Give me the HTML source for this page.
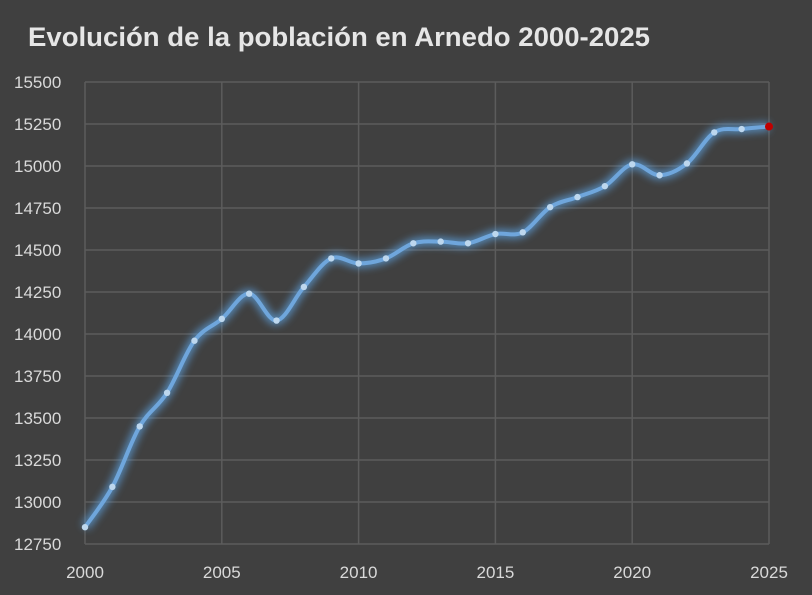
<!DOCTYPE html>
<html><head><meta charset="utf-8"><style>
html,body{margin:0;padding:0;background:#404040;}
svg{display:block;}
text{font-family:"Liberation Sans",sans-serif;}
</style></head><body>
<svg id="s" width="812" height="595" xmlns="http://www.w3.org/2000/svg">
<defs><filter id="g" x="-10%" y="-10%" width="120%" height="120%"><feGaussianBlur stdDeviation="4"/></filter></defs>
<rect width="812" height="595" fill="#404040"/>
<text x="28" y="46" font-size="27" font-weight="bold" fill="#e6e6e6" textLength="622" lengthAdjust="spacingAndGlyphs">Evolución de la población en Arnedo 2000-2025</text>
<g id="grid" stroke="#5c5c5c" stroke-width="1.5"></g>
<g id="lab" fill="#d9d9d9" font-size="17"></g>
<path id="glow" fill="none" stroke="#5b9bd5" stroke-width="9" opacity="0.8" filter="url(#g)"/>
<path id="line" fill="none" stroke="#6fa6dc" stroke-width="4"/>
<g id="pts"></g>
</svg>
<script>
var d=[12850,13090,13450,13650,13960,14090,14240,14080,14280,14450,14420,14450,14540,14550,14540,14595,14605,14755,14815,14880,15010,14945,15015,15200,15220,15235];
var X=function(i){return 85+i*684/25},Y=function(v){return 82+(15500-v)*462/2750};
var ns="http://www.w3.org/2000/svg",g=document.getElementById('grid'),l=document.getElementById('lab');
function el(p,t,a){var e=document.createElementNS(ns,t);for(var k in a)e.setAttribute(k,a[k]);p.appendChild(e);return e;}
for(var v=12750;v<=15500;v+=250){var y=Y(v);el(g,'line',{x1:85,x2:769,y1:y,y2:y});var t=el(l,'text',{x:14,y:y+6});t.textContent=v;}
for(var yr=0;yr<=25;yr+=5){var x=X(yr);el(g,'line',{x1:x,x2:x,y1:82,y2:544});var t=el(l,'text',{x:x,y:578,'text-anchor':'middle'});t.textContent=2000+yr;}
var P=d.map(function(v,i){return[X(i),Y(v)]}),s="M"+P[0];
for(var i=0;i<P.length-1;i++){var p0=P[i-1]||P[i],p1=P[i],p2=P[i+1],p3=P[i+2]||p2,k=6;
s+=" C"+(p1[0]+(p2[0]-p0[0])/k)+","+(p1[1]+(p2[1]-p0[1])/k)+" "+(p2[0]-(p3[0]-p1[0])/k)+","+(p2[1]-(p3[1]-p1[1])/k)+" "+p2[0]+","+p2[1];}
document.getElementById('glow').setAttribute('d',s);document.getElementById('line').setAttribute('d',s);
var pg=document.getElementById('pts');
P.forEach(function(p,i){el(pg,'circle',{cx:p[0],cy:p[1],r:i==25?4:3.2,fill:i==25?'#c00000':'#bdd7ee'});});
</script>
</body></html>
